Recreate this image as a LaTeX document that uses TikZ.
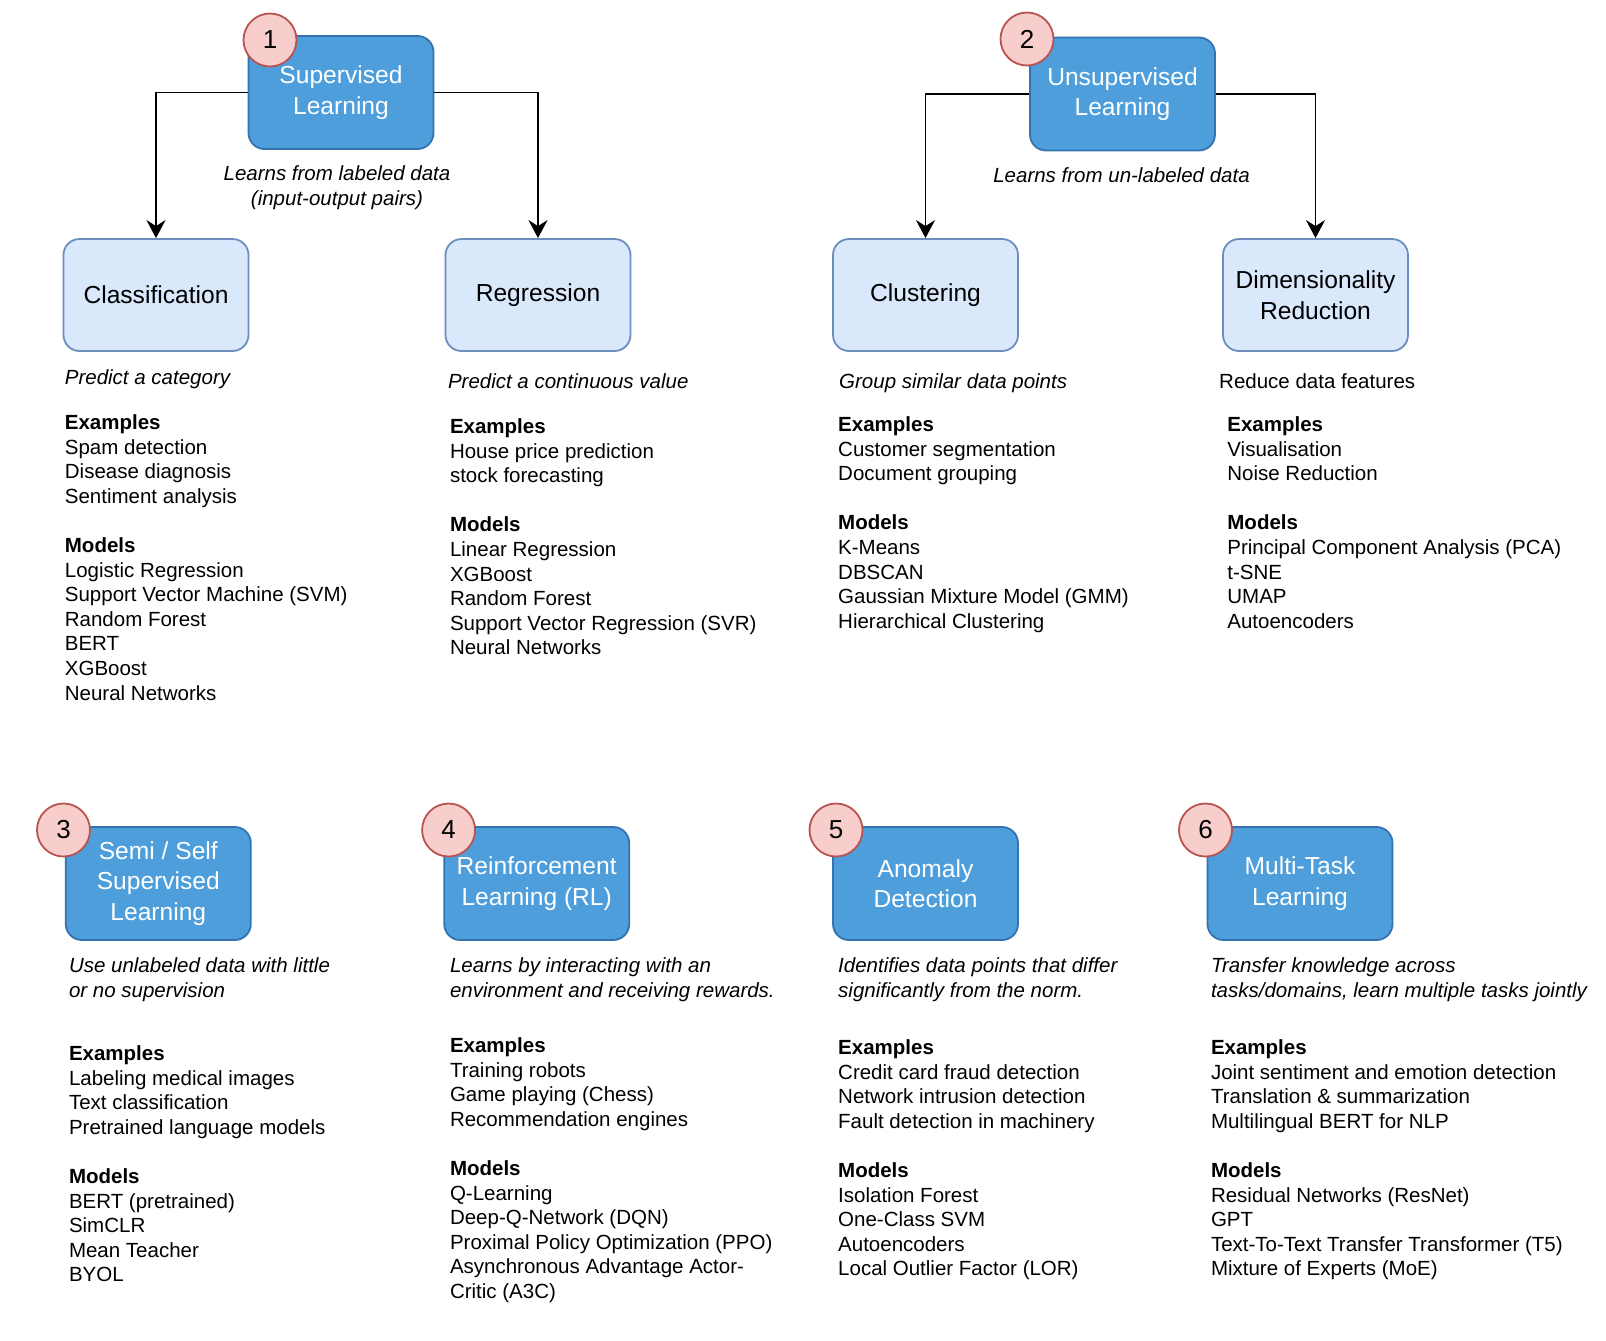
\documentclass[tikz,border=0pt]{standalone}
\usepackage{fontspec}
\setmainfont{Liberation Sans}
\usepackage{xcolor}
\usepackage{tikz}
\usetikzlibrary{arrows.meta}
\definecolor{boxdark}{RGB}{77,158,219}
\definecolor{boxdarkline}{RGB}{52,115,176}
\definecolor{boxlight}{RGB}{218,232,252}
\definecolor{boxlightline}{RGB}{108,142,191}
\definecolor{badgefill}{RGB}{248,206,204}
\definecolor{badgeline}{RGB}{184,84,80}
\newcommand{\mlhead}{\fontsize{12.3}{15.2}\selectfont}
\newcommand{\mlbody}{\fontsize{10.25}{12.3}\selectfont}
\newcommand{\mlbadge}{\fontsize{13}{15}\selectfont}

\begin{document}
\begin{tikzpicture}[x=0.5pt,y=-0.5pt,>=Stealth,
  main/.style={draw=boxdarkline,fill=boxdark,text=white,rounded corners=8pt,line width=0.9pt,
    minimum width=92.5pt,minimum height=56.5pt,align=center,font=\mlhead},
  sub/.style={draw=boxlightline,fill=boxlight,rounded corners=8pt,line width=0.9pt,
    minimum width=92.5pt,minimum height=56pt,align=center,font=\mlhead},
  badge/.style={circle,draw=badgeline,fill=badgefill,line width=0.9pt,minimum size=26.5pt,
    inner sep=0pt,font=\mlbadge},
  body/.style={anchor=north west,align=left,inner sep=0pt,font=\mlbody},
  desc/.style={body,font=\mlbody\itshape},
  link/.style={-{Stealth[length=9pt,width=9.5pt,inset=3pt]},line width=0.95pt}]
  \useasboundingbox (0,0) rectangle (1606,1340);

  % top row: two families and their tasks
  \node[main] (sup) at (341,92.5) {Supervised\\Learning};
  \node[main] (unsup) at (1122.5,94) {Unsupervised\\Learning};
  \node[sub] (cls) at (156,295) {Classification};
  \node[sub] (reg) at (538,295) {Regression};
  \node[sub] (clu) at (925.5,295) {Clustering};
  \node[sub] (dim) at (1315.5,295) {Dimensionality\\Reduction};

  \draw[link] (sup.west) -| (cls.north);
  \draw[link] (sup.east) -| (reg.north);
  \draw[link] (unsup.west) -| (clu.north);
  \draw[link] (unsup.east) -| (dim.north);

  \node[desc,align=center,anchor=north] (sup-desc) at (337,165.2) {Learns from labeled data\\(input-output pairs)};
  \node[desc,anchor=north] (unsup-desc) at (1121.5,167.2) {Learns from un-labeled data};

  % task columns
  \node[desc] (cls-desc) at (64.5,369.2) {Predict a category};
  \node[body] (cls-list) at (64.5,414.2) {\textbf{Examples}\\Spam detection\\Disease diagnosis\\Sentiment analysis\\[12.3pt]
    \textbf{Models}\\Logistic Regression\\Support Vector Machine (SVM)\\Random Forest\\BERT\\XGBoost\\Neural Networks};
  \node[desc] (reg-desc) at (447.6,373.2) {Predict a continuous value};
  \node[body] (reg-list) at (449.6,418.2) {\textbf{Examples}\\House price prediction\\stock forecasting\\[12.3pt]
    \textbf{Models}\\Linear Regression\\XGBoost\\Random Forest\\Support Vector Regression (SVR)\\Neural Networks};
  \node[desc] (clu-desc) at (838.8,373.2) {Group similar data points};
  \node[body] (clu-list) at (837.8,416.2) {\textbf{Examples}\\Customer segmentation\\Document grouping\\[12.3pt]
    \textbf{Models}\\K-Means\\DBSCAN\\Gaussian Mixture Model (GMM)\\Hierarchical Clustering};
  \node[body] (dim-desc) at (1218.8,373.2) {Reduce data features};
  \node[body] (dim-list) at (1227,416.2) {\textbf{Examples}\\Visualisation\\Noise Reduction\\[12.3pt]
    \textbf{Models}\\Principal Component Analysis (PCA)\\t-SNE\\UMAP\\Autoencoders};

  % bottom row: other paradigms
  \node[main] (semi) at (158.3,883.5) {Semi / Self\\Supervised\\Learning};
  \node[main] (rl) at (536.7,883.5) {Reinforcement\\Learning (RL)};
  \node[main] (anom) at (925.5,883.5) {Anomaly\\Detection};
  \node[main] (mtl) at (1300,883.5) {Multi-Task\\Learning};

  \node[desc] (semi-desc) at (68.6,957.2) {Use unlabeled data with little\\or no supervision};
  \node[body] (semi-list) at (68.6,1045.2) {\textbf{Examples}\\Labeling medical images\\Text classification\\Pretrained language models\\[12.3pt]
    \textbf{Models}\\BERT (pretrained)\\SimCLR\\Mean Teacher\\BYOL};
  \node[desc] (rl-desc) at (449.6,957.2) {Learns by interacting with an\\environment and receiving rewards.};
  \node[body] (rl-list) at (449.6,1037.2) {\textbf{Examples}\\Training robots\\Game playing (Chess)\\Recommendation engines\\[12.3pt]
    \textbf{Models}\\Q-Learning\\Deep-Q-Network (DQN)\\Proximal Policy Optimization (PPO)\\Asynchronous Advantage Actor-\\Critic (A3C)};
  \node[desc] (anom-desc) at (837.8,957.2) {Identifies data points that differ\\significantly from the norm.};
  \node[body] (anom-list) at (837.8,1039.2) {\textbf{Examples}\\Credit card fraud detection\\Network intrusion detection\\Fault detection in machinery\\[12.3pt]
    \textbf{Models}\\Isolation Forest\\One-Class SVM\\Autoencoders\\Local Outlier Factor (LOR)};
  \node[desc] (mtl-desc) at (1210.6,957.2) {Transfer knowledge across\\tasks/domains, learn multiple tasks jointly};
  \node[body] (mtl-list) at (1210.6,1039.2) {\textbf{Examples}\\Joint sentiment and emotion detection\\Translation \& summarization\\Multilingual BERT for NLP\\[12.3pt]
    \textbf{Models}\\Residual Networks (ResNet)\\GPT\\Text-To-Text Transfer Transformer (T5)\\Mixture of Experts (MoE)};

  % numbered badges on the box corners
  \node[badge] (n1) at (270,40) {1};
  \node[badge] (n2) at (1027,39) {2};
  \node[badge] (n3) at (63.5,830) {3};
  \node[badge] (n4) at (448.6,830) {4};
  \node[badge] (n5) at (836,830) {5};
  \node[badge] (n6) at (1205.5,830) {6};
\end{tikzpicture}
\end{document}
